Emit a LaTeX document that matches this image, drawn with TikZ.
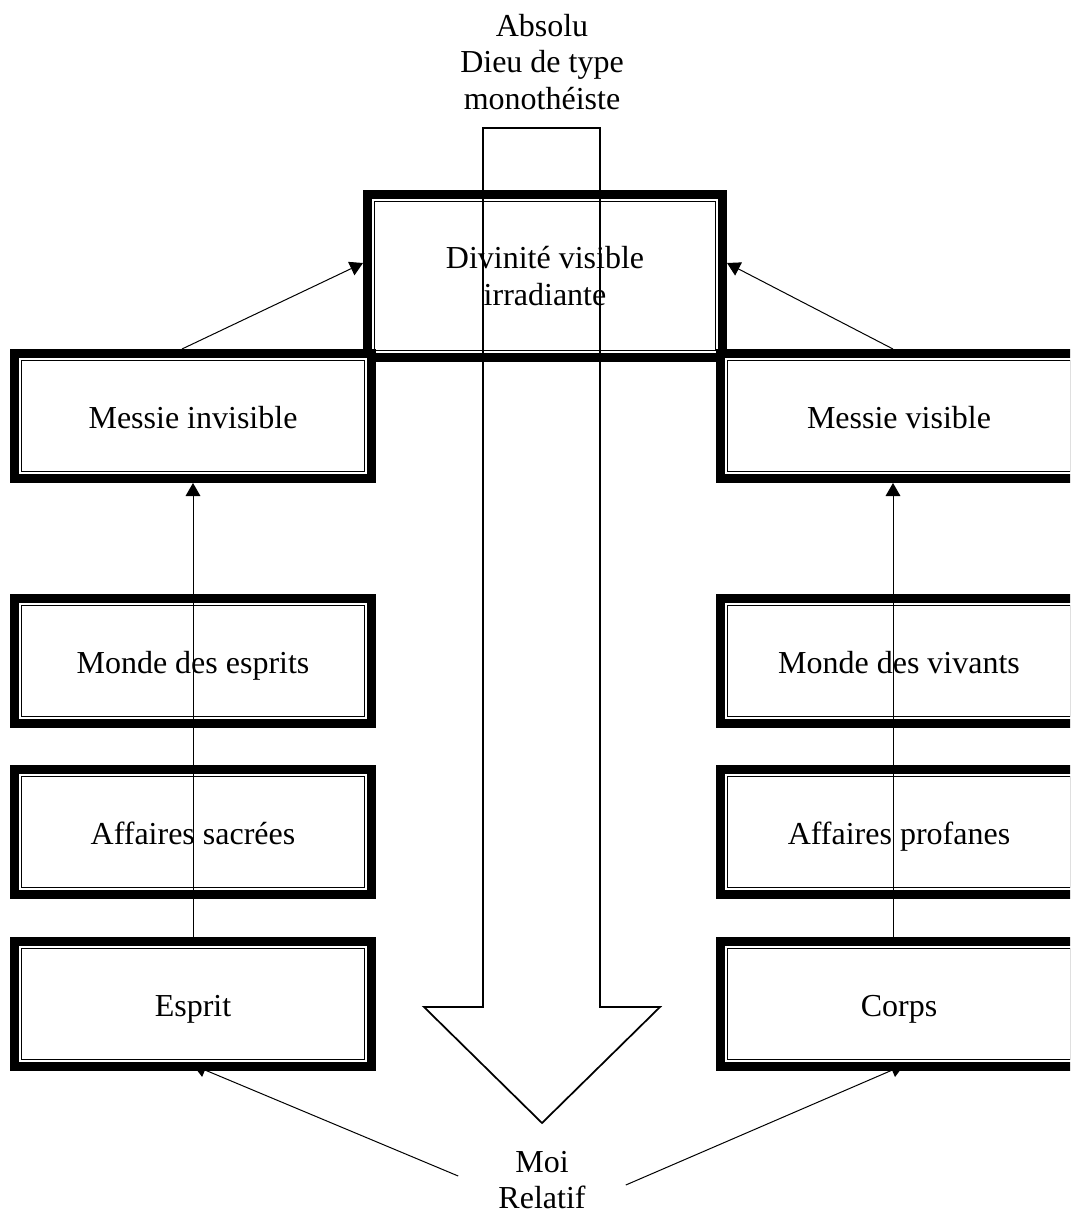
\documentclass[tikz,border=0pt]{standalone}
\usepackage{fontspec}
\setmainfont{Liberation Serif}
\usetikzlibrary{calc,arrows.meta,backgrounds}
\newcommand\tframe[1]{%
  \draw[line width=6.75pt] ($(#1.north west)+(4.5,4.5)$) rectangle ($(#1.south east)+(-4.5,-4.5)$);
  \draw[line width=0.75pt] ($(#1.north west)+(11.5,11.5)$) rectangle ($(#1.south east)+(-11.5,-11.5)$);}
\tikzset{
  txt/.style={align=center, inner sep=0pt, font=\fontsize{24}{27.5}\selectfont},
  tbox/.style={fill=white, inner sep=0pt, outer sep=0pt, align=center,
    font=\fontsize{24}{27.5}\selectfont, minimum width=274.5pt, minimum height=100.5pt},
  onel/.style={tbox, text height=18pt, text depth=0pt},
  conn/.style={line width=0.75pt, -{Triangle[length=9.75pt,width=11pt]}},
  bigarrow/.style={line width=1.3pt, line join=miter}
}
\begin{document}
\begin{tikzpicture}[x=0.75pt,y=-0.75pt]
\useasboundingbox (0,0) rectangle (1070,1216);
\clip (0,0) rectangle (1070,1216);
% free texts
\node[txt] (abs) at (542,62) {Absolu\\Dieu de type\\monoth\'eiste};
\node[txt] (moi) at (542,1180) {Moi\\Relatif};
% top box
\node[tbox, minimum width=273pt, minimum height=129pt] (div) at (545,276) {Divinit\'e visible\\irradiante};
\tframe{div}
% messie boxes
\node[onel] (minv) at (193,416) {Messie invisible};
\tframe{minv}
\node[onel] (mvis) at (899,416) {Messie visible};
\tframe{mvis}
% other boxes
\node[onel] (mde) at (193,661) {Monde des esprits};
\tframe{mde}
\node[onel] (mdv) at (899,661) {Monde des vivants};
\tframe{mdv}
\node[onel] (asa) at (193,832) {Affaires sacr\'ees};
\tframe{asa}
\node[onel] (apr) at (899,832) {Affaires profanes};
\tframe{apr}
\node[onel] (esp) at (193,1004) {Esprit};
\tframe{esp}
\node[onel] (cor) at (899,1004) {Corps};
\tframe{cor}
% arrows from Moi (tips hidden under the boxes)
\begin{pgfonlayer}{background}
\draw[conn] ($(moi.west)+(-40,-4)$) -- ($(esp.south)+(0,-6)$);
\draw[conn] ($(moi.east)+(40,5)$) -- ($(cor.south)+(5,-6)$);
\end{pgfonlayer}
% vertical arrows
\draw[conn] (esp.north) -- (minv.south);
\draw[conn] ($(cor.north)+(-6,0)$) -- ($(mvis.south)+(-6,0)$);
% diagonal arrows
\draw[conn] ($(minv.north)+(-11,0)$) -- ($(div.west)+(0,-13)$);
\draw[conn] ($(mvis.north)+(-6,0)$) -- ($(div.east)+(0,-13)$);
% big hollow arrow
\draw[bigarrow] (483,128) -- (600,128) -- (600,1007) -- (660,1007) -- (542,1123)
  -- (424,1007) -- (483,1007) -- cycle;
\end{tikzpicture}
\end{document}
